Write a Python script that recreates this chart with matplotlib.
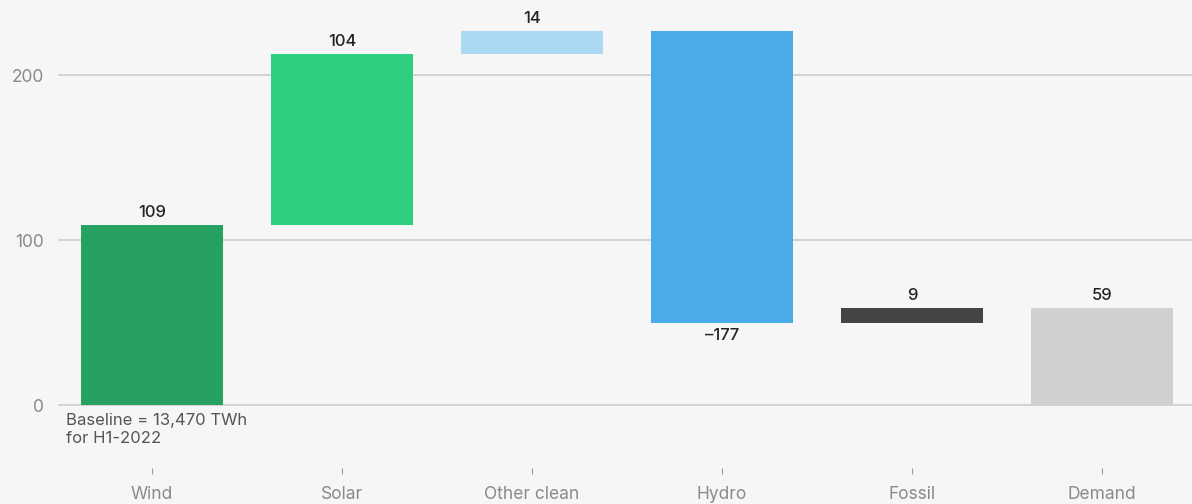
import matplotlib.pyplot as plt
import numpy as np

plt.rcParams['font.family'] = ['Inter', 'DejaVu Sans']

# changes in generation, TWh
categories = ['Wind', 'Solar', 'Other clean', 'Hydro', 'Fossil', 'Demand']
changes = [109, 104, 14, -177, 9]
demand = 59
colors = ['#26a162', '#2ecf80', '#abd9f3', '#4aace6', '#444444', '#d0d0d0']

# waterfall: running totals give each bar's bottom
starts = np.concatenate([[0], np.cumsum(changes)[:-1]])
bottoms = list(np.minimum(starts, starts + np.array(changes))) + [0]
heights = [abs(c) for c in changes] + [demand]
values = changes + [demand]

fig = plt.figure(figsize=(11.92, 5.04), dpi=100, facecolor='#f6f6f6')
ax = fig.add_axes([58 / 1192, 1 - 468 / 504, 1134 / 1192, 468 / 504])
ax.set_facecolor('#f6f6f6')

x = np.arange(len(categories))
ax.bar(x, heights, bottom=bottoms, width=0.75, color=colors, zorder=3)

for i, v in enumerate(values):
    if v >= 0:
        ax.text(x[i], bottoms[i] + heights[i] + 3, str(v), ha='center', va='bottom',
                fontsize=12, fontweight='medium', color='#222222', zorder=4)
    else:
        ax.text(x[i], bottoms[i] - 3, '\u2013' + str(abs(v)), ha='center', va='top',
                fontsize=12, fontweight='medium', color='#222222', zorder=4)

ax.set_xlim(-0.495, 5.474)
ax.set_ylim(-38, 245.5)
ax.set_yticks([0, 100, 200])
ax.set_yticklabels(['0', '100', '200'])
ax.yaxis.grid(True, color='#cccccc', linewidth=1.2, zorder=0)
ax.tick_params(axis='y', length=0, pad=10, labelsize=12.5, labelcolor='#8a8a8a')
ax.set_xticks(x)
ax.set_xticklabels(categories)
ax.tick_params(axis='x', length=4, width=0.8, color='#999999', pad=9,
               labelsize=12.5, labelcolor='#8a8a8a')
for s in ax.spines.values():
    s.set_visible(False)

ax.text(-0.455, -4.5, 'Baseline = 13,470 TWh\nfor H1-2022', ha='left', va='top',
        fontsize=12, color='#555555', linespacing=1.25)

fig.savefig('out.png', dpi=100, facecolor=fig.get_facecolor())
